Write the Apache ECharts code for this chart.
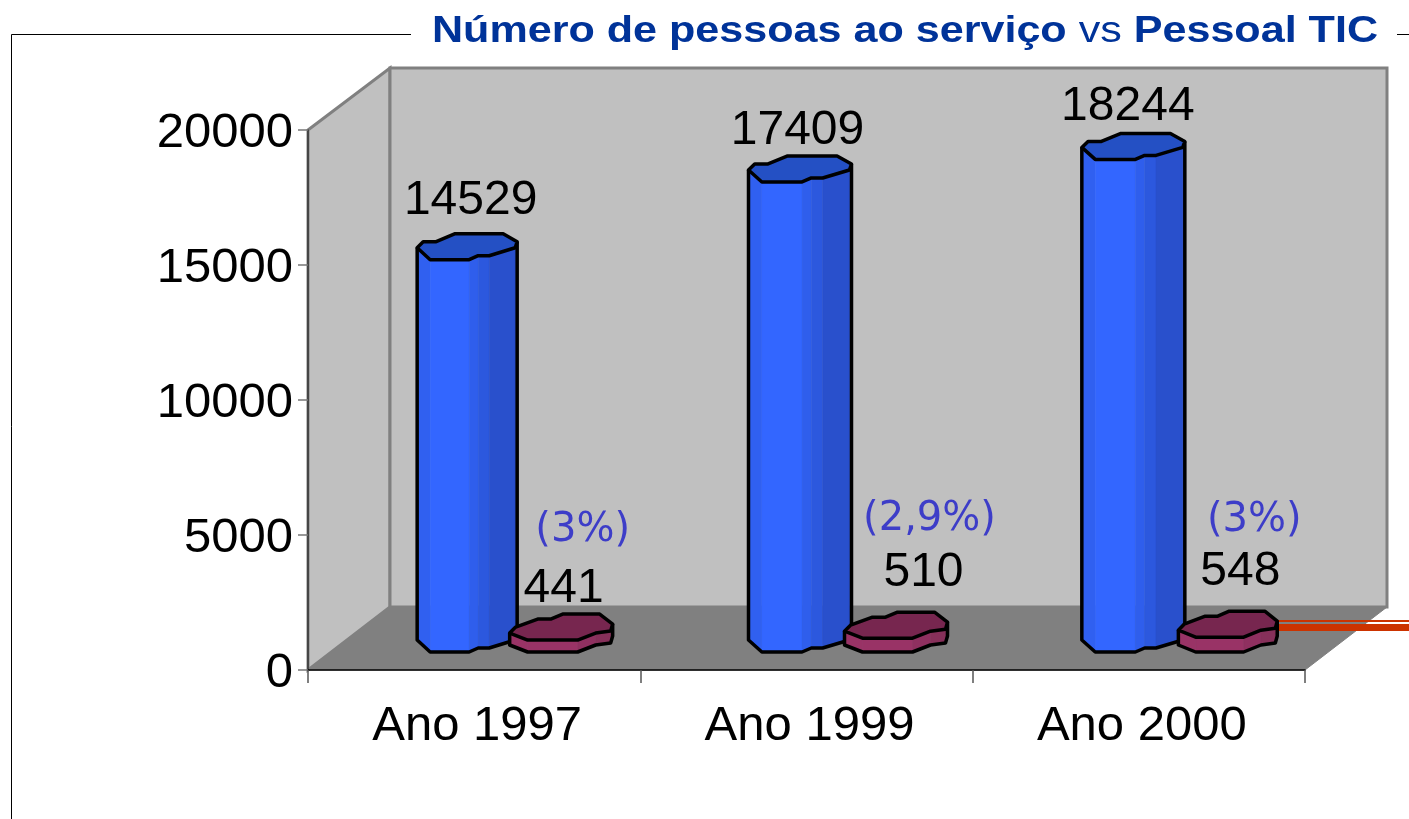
<!DOCTYPE html>
<html><head><meta charset="utf-8">
<style>html,body{margin:0;padding:0;background:#fff}#c{width:1409px;height:819px}</style>
<script src="https://cdn.jsdelivr.net/npm/echarts@6/dist/echarts.min.js"></script>
</head><body><div id="c"></div>
<script>
const categories = ['Ano 1997', 'Ano 1999', 'Ano 2000'];
const totalStaff = [14529, 17409, 18244];
const ictStaff = [441, 510, 548];
const ictShare = ['(3%)', '(2,9%)', '(3%)'];
const yTicks = { min: 0, max: 20000, interval: 5000 };
const titleLeft = 'Número de pessoas ao serviço ';
const titleMid = 'vs';
const titleRight = ' Pessoal TIC';

// layout only (pixels)
const DEPTH_X = 82, DEPTH_Y = 63, BASE_LIFT = 31;
const FONT = '"Liberation Sans", Arial, sans-serif';
const blueLayout = { nudge: [-7, -6.5, -5.5], sx: [1, 1.03, 1.03], label: [[3.5, -46], [-2.5, -38], [-5.5, -40]] };
const redLayout = { nudge: [86.5, 89, 88.5], sx: [1, 1, 0.96], label: [[3, -38], [28, -52], [13, -52]], share: [[22, -96], [34, -106], [27, -104]] };
const blueTop = [[-50,1],[-44,-5],[-31,-5],[-12,-13],[36,-13],[50,-5],[48,1],[22,9],[11,9],[2,13],[-37,13]];
const blueFront = [[-50,1],[-37,13],[2,13],[11,9],[22,9],[48,1],[50,-5]];
const blueFacets = ['#3060f0','#3366ff','#2f5eec','#2c58de','#2950cc','#2548c0'];
const redTop = [[-51,6],[-45,0],[-23,-8],[-10,-8],[2,-13],[39,-13],[52,-3],[50,4],[35,6],[17,13],[-33,13]];
const redFront = [[-51,6],[-33,13],[17,13],[35,6],[50,4],[52,-3]];
const redFacets = ['#993366','#993366','#8f3060','#86305a','#7c2a52'];

function solid(cx, y0, y1, sx, top, front, facets, topFill) {
  const P = (p, y) => [cx + p[0] * sx, y + p[1]];
  const kids = [];
  front.slice(0, -1).forEach((p, i) => {
    const q = front[i + 1];
    kids.push({ type: 'polygon', shape: { points: [P(p, y0), P(q, y0), P(q, y1), P(p, y1)] },
      style: { fill: facets[i], stroke: facets[i], lineWidth: 0.5 } });
  });
  const lower = front.map(p => P(p, y0));
  const outline = [P(front[0], y1)].concat(lower, [P(front[front.length - 1], y1)]);
  kids.push({ type: 'polyline', shape: { points: outline }, style: { fill: 'none', stroke: '#000', lineWidth: 3.5, lineJoin: 'round' } });
  kids.push({ type: 'polygon', shape: { points: top.map(p => P(p, y1)) },
    style: { fill: topFill, stroke: '#000', lineWidth: 3.5, lineJoin: 'round' } });
  return kids;
}
const label = (text, x, y, color, size, family) => ({ type: 'text', z2: 50,
  style: { text, x, y, align: 'center', verticalAlign: 'middle', fill: color, font: size + 'px ' + (family || FONT) } });

const chart = echarts.init(document.getElementById('c'), null, { renderer: 'canvas' });
chart.setOption({
  animation: false,
  backgroundColor: '#fff',
  grid: { left: 308, right: 104, top: 130, bottom: 149, containLabel: false },
  xAxis: {
    type: 'category', data: categories, z: 5,
    axisLine: { lineStyle: { color: '#000', width: 1.5 } },
    axisTick: { show: true, length: 13, alignWithLabel: false, lineStyle: { color: '#555', width: 1.5 } },
    axisLabel: { fontSize: 49, color: '#000', fontFamily: FONT, margin: 32, padding: [0, 0, 0, 6] },
    splitLine: { show: false }
  },
  yAxis: {
    type: 'value', min: yTicks.min, max: yTicks.max, interval: yTicks.interval, z: 5,
    axisLine: { show: true, lineStyle: { color: '#333', width: 1.5 } },
    axisTick: { show: true, length: 10, lineStyle: { color: '#777', width: 1.5 } },
    axisLabel: { fontSize: 49, color: '#000', fontFamily: FONT, margin: 15, verticalAlign: 'top', padding: [-21, 0, 0, 0], formatter: v => String(v) },
    splitLine: { show: false }
  },
  graphic: [
    { type: 'polyline', z: 20, shape: { points: [[11.5, 819], [11.5, 34.5], [411, 34.5]] }, style: { stroke: '#000', fill: 'none', lineWidth: 1 } },
    { type: 'line', z: 20, shape: { x1: 1397, y1: 34.5, x2: 1409, y2: 34.5 }, style: { stroke: '#000', lineWidth: 1 } },
    { type: 'text', z: 20, x: 432, y: 14, scaleX: 1.197, scaleY: 1,
      style: { text: '{a|' + titleLeft + '}{b|' + titleMid + '}{a|' + titleRight + '}',
        rich: {
          a: { fontSize: 36, fontWeight: 'bold', fontFamily: FONT, fill: '#003399', color: '#003399' },
          b: { fontSize: 36, fontWeight: 'normal', fontFamily: FONT, fill: '#003399', color: '#003399' }
        } } }
  ],
  series: [
    { // walls and floor of the 3D box
      type: 'custom', z: 1, silent: true, data: [[0, 0]], clip: false,
      renderItem(params, api) {
        const g = params.coordSys, L = g.x, R = g.x + g.width, T = g.y, B = g.y + g.height;
        const poly = (pts, fill, stroke, lw) => ({ type: 'polygon', shape: { points: pts }, style: { fill, stroke: stroke || fill, lineWidth: lw || 0 } });
        return { type: 'group', children: [
          poly([[L, T], [L + DEPTH_X, T - DEPTH_Y + 1], [L + DEPTH_X, B - DEPTH_Y], [L, B]], '#c0c0c0', '#808080', 3),
          poly([[L + DEPTH_X, T - DEPTH_Y + 1], [R + DEPTH_X, T - DEPTH_Y + 1], [R + DEPTH_X, B - DEPTH_Y], [L + DEPTH_X, B - DEPTH_Y]], '#c0c0c0', '#808080', 3),
          poly([[L, B], [L + DEPTH_X, B - DEPTH_Y], [R + DEPTH_X, B - DEPTH_Y], [R, B]], '#808080', '#808080', 1),
          { type: 'rect', shape: { x: R - 30, y: B - 50, width: 200, height: 2 }, style: { fill: '#cc3300' } },
          { type: 'rect', shape: { x: R - 30, y: B - 46, width: 200, height: 7 }, style: { fill: '#cc3300' } }
        ] };
      }
    },
    {
      type: 'custom', name: 'Número de pessoas ao serviço', z: 3, clip: false,
      data: categories.map((c, i) => [i, totalStaff[i]]),
      renderItem(params, api) {
        const i = api.value(0), v = api.value(1);
        const base = api.coord([i, 0]), top = api.coord([i, v]);
        const cx = base[0] + blueLayout.nudge[i];
        const kids = solid(cx, base[1] - BASE_LIFT, top[1] - BASE_LIFT, blueLayout.sx[i], blueTop, blueFront, blueFacets, '#2450c4');
        const l = blueLayout.label[i];
        kids.push(label(String(v), cx + l[0], top[1] - BASE_LIFT + l[1], '#000', 48));
        return { type: 'group', children: kids };
      }
    },
    {
      type: 'custom', name: 'Pessoal TIC', z: 4, clip: false,
      data: categories.map((c, i) => [i, ictStaff[i]]),
      renderItem(params, api) {
        const i = api.value(0), v = api.value(1);
        const base = api.coord([i, 0]), top = api.coord([i, v]);
        const cx = base[0] + redLayout.nudge[i];
        const kids = solid(cx, base[1] - BASE_LIFT, top[1] - BASE_LIFT, redLayout.sx[i], redTop, redFront, redFacets, '#77264f');
        const l = redLayout.label[i], s = redLayout.share[i];
        kids.push(label(String(v), cx + l[0], top[1] - BASE_LIFT + l[1], '#000', 48));
        kids.push(label(ictShare[i], cx + s[0], top[1] - BASE_LIFT + s[1], '#3d3dc8', 40, '"DejaVu Sans", sans-serif'));
        return { type: 'group', children: kids };
      }
    }
  ]
});
</script></body></html>
